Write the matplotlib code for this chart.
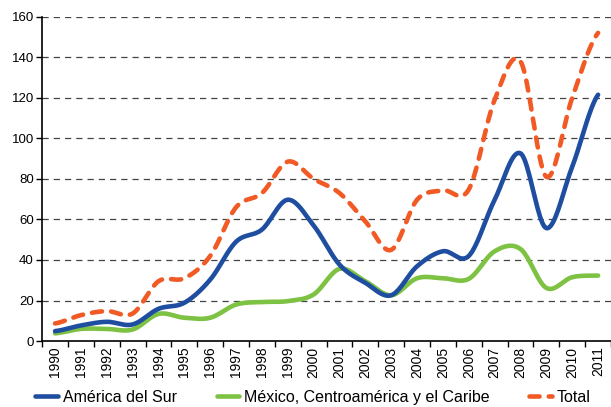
import numpy as np
import matplotlib.pyplot as plt

plt.rcParams['font.family'] = ['Liberation Sans', 'DejaVu Sans']

years = [str(y) for y in range(1990, 2012)]
america_sur = [4.9, 7.7, 9.5, 8.2, 15.9, 18.9, 30.3, 49, 55, 69.7, 57,
               37.7, 28.7, 22.6, 36.9, 44.3, 42, 69.7, 92.6, 55.7, 86, 121.5]
mexico_ca = [3.8, 6, 6, 5.7, 13.4, 11.5, 11.5, 18, 19.3, 19.7, 23,
             35.6, 29.5, 22.6, 31, 31, 30.7, 44.3, 45.4, 26.2, 31.5, 32.3]
total = [8.7, 12.8, 14.8, 13.6, 29.5, 31, 42, 66, 73, 88.5, 80,
         73, 59, 45, 69.7, 74.3, 74.8, 119, 138, 81, 120, 152]

labels = ['América del Sur', 'México, Centroamérica y el Caribe', 'Total']
colors = ['#1f4ea1', '#7dc242', '#f15a24']


def smooth(y, n=20):
    # catmull-rom spline through the points, like a smoothed excel line
    y = np.asarray(y, float)
    p = np.concatenate([[y[0]], y, [y[-1]]])
    xs, ys = [], []
    for i in range(len(y) - 1):
        p0, p1, p2, p3 = p[i], p[i + 1], p[i + 2], p[i + 3]
        t = np.linspace(0, 1, n, endpoint=False)
        v = 0.5 * (2 * p1 + (-p0 + p2) * t + (2 * p0 - 5 * p1 + 4 * p2 - p3) * t ** 2
                   + (-p0 + 3 * p1 - 3 * p2 + p3) * t ** 3)
        xs.append(i + t)
        ys.append(v)
    xs.append([len(y) - 1])
    ys.append([y[-1]])
    return np.concatenate(xs), np.concatenate(ys)


fig = plt.figure(figsize=(6.11, 4.07), dpi=100)
ax = fig.add_axes([0.069, 0.162, 0.931, 0.797])

for i in range(1, 9):
    ax.axhline(i * 20, color='#444444', lw=0.9, ls=(0, (5, 4)), zorder=1)

x, y = smooth(america_sur)
ax.plot(x, y, color=colors[0], lw=3.3, solid_capstyle='round', label=labels[0], zorder=3)
x, y = smooth(mexico_ca)
ax.plot(x, y, color=colors[1], lw=3.3, solid_capstyle='round', label=labels[1], zorder=2)
x, y = smooth(total)
ax.plot(x, y, color=colors[2], lw=3.3, ls=(0, (2.2, 2.0)), dash_capstyle='round',
        label=labels[2], zorder=4)

ax.set_xlim(-0.5, len(years) - 0.5)
ax.set_ylim(0, 160)
ax.set_yticks(range(0, 161, 20))
ax.tick_params(axis='y', labelsize=9.5, length=4, width=1, direction='out', pad=2)

ax.set_xticks(range(len(years)))
ax.set_xticklabels(years, rotation=90, fontsize=10)
ax.set_xticks(np.arange(-0.5, len(years), 1), minor=True)
ax.tick_params(axis='x', which='major', length=0, pad=4)
ax.tick_params(axis='x', which='minor', length=4, width=1, direction='out')

for s in ['top', 'right']:
    ax.spines[s].set_visible(False)
ax.spines['left'].set_linewidth(1.2)
ax.spines['bottom'].set_linewidth(1.2)

fig.legend(loc='center', bbox_to_anchor=(0.512, 0.024), ncol=3, frameon=False,
           fontsize=11.5, handlelength=1.4, handletextpad=0.3, columnspacing=2.5,
           borderpad=0, borderaxespad=0)

fig.savefig('out.png', dpi=100)
